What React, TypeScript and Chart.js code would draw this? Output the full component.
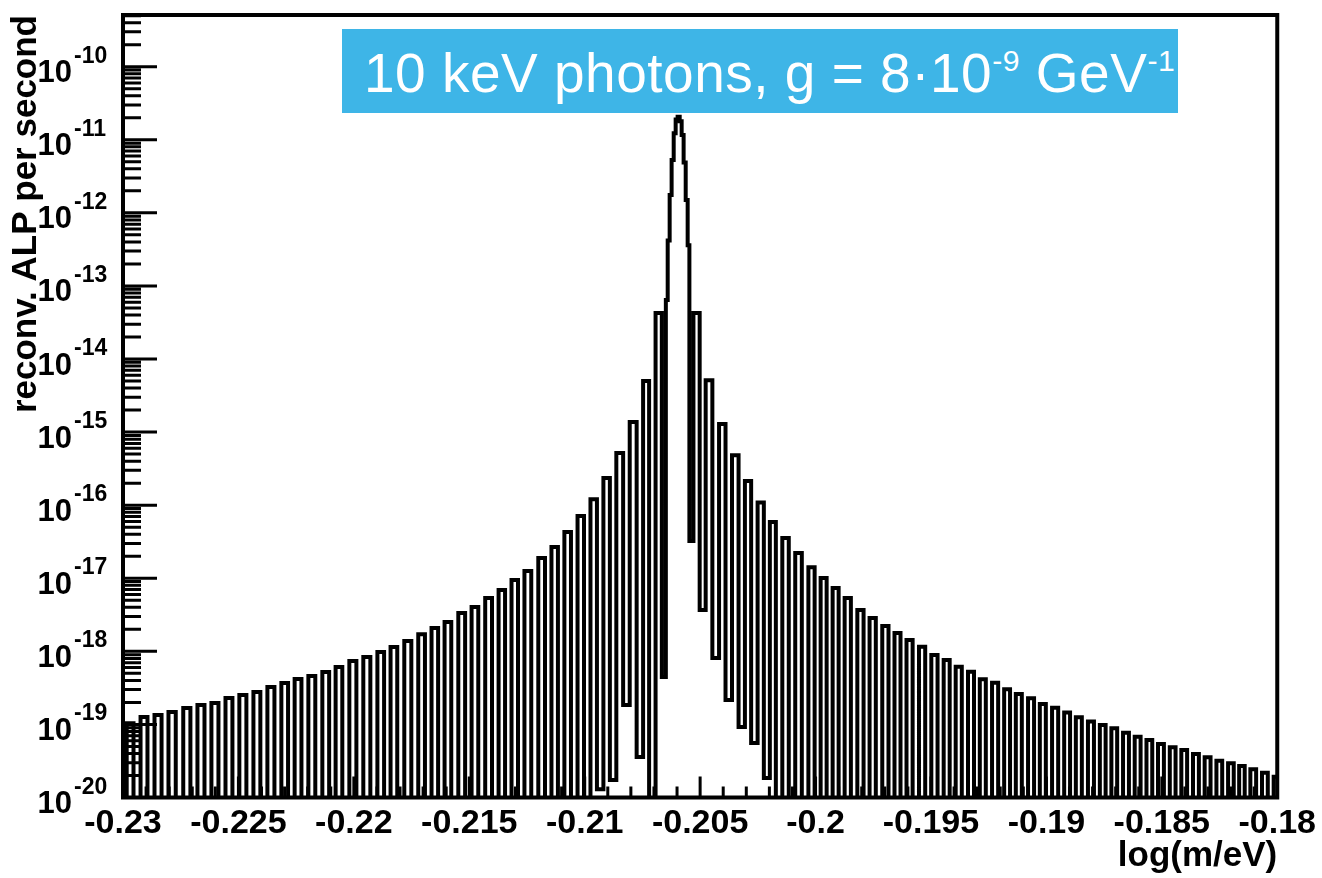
import React, { useEffect, useRef } from 'react';
import { Chart, registerables } from 'chart.js';

Chart.register(...registerables);

const FONT = "'Liberation Sans', Arial, Helvetica, sans-serif";
const FLOOR = 1e-21; // curve dips below the 1e-20 axis floor

// ---- data (x = log(m/eV), y = reconv. ALP per second) ----
const leftPeakX = [
  -0.2297, -0.22909, -0.22848, -0.22788, -0.22723, -0.22662, -0.22602, -0.22541, -0.22481, -0.2242,
  -0.22359, -0.22299, -0.22242, -0.22182, -0.22121, -0.22065, -0.22004, -0.21944, -0.21883, -0.21827,
  -0.21766, -0.21706, -0.21649, -0.21593, -0.21532, -0.21476, -0.21416, -0.21359, -0.21303, -0.21247,
  -0.21186, -0.2113, -0.21074, -0.21017, -0.20961, -0.20905, -0.20849, -0.20792, -0.20736, -0.2068,
];
const leftPeakY = [
  1.04e-19, 1.26e-19, 1.35e-19, 1.48e-19, 1.68e-19, 1.84e-19, 1.96e-19, 2.3e-19, 2.52e-19, 2.77e-19,
  3.25e-19, 3.69e-19, 4.18e-19, 4.59e-19, 5.21e-19, 6.1e-19, 7.36e-19, 8.35e-19, 9.78e-19, 1.15e-18,
  1.38e-18, 1.72e-18, 2.08e-18, 2.52e-18, 3.34e-18, 4.04e-18, 5.36e-18, 6.9e-18, 9.45e-18, 1.26e-17,
  1.89e-17, 2.67e-17, 4.29e-17, 7.1e-17, 1.21e-16, 2.35e-16, 5.16e-16, 1.37e-15, 4.99e-15, 4.25e-14,
];
const leftTroughX = [
  -0.22998, -0.22939, -0.22879, -0.22818, -0.22755, -0.22693, -0.22632, -0.22571, -0.22511, -0.2245,
  -0.2239, -0.22329, -0.22271, -0.22212, -0.22152, -0.22093, -0.22035, -0.21974, -0.21913, -0.21855,
  -0.21797, -0.21736, -0.21678, -0.21621, -0.21563, -0.21504, -0.21446, -0.21387, -0.21331, -0.21275,
  -0.21216, -0.21158, -0.21102, -0.21045, -0.20989, -0.20933, -0.20877, -0.20818, -0.20758, -0.20706,
  -0.20652,
];
const leftTroughY = [
  FLOOR, FLOOR, FLOOR, FLOOR, FLOOR, FLOOR, FLOOR, FLOOR, FLOOR, FLOOR,
  FLOOR, FLOOR, FLOOR, FLOOR, FLOOR, FLOOR, FLOOR, FLOOR, FLOOR, FLOOR,
  FLOOR, FLOOR, FLOOR, FLOOR, FLOOR, FLOOR, FLOOR, FLOOR, FLOOR, FLOOR,
  FLOOR, FLOOR, FLOOR, FLOOR, FLOOR, 1.3e-20, 1.73e-20, 1.84e-19, 3.58e-20, FLOOR,
  4.45e-19,
];
// bins of the main resonance
const coreX = [
  -0.20645, -0.20636, -0.20628, -0.20619, -0.2061, -0.20602,
  -0.20593, -0.20584, -0.20576, -0.20567, -0.20558, -0.2055,
];
const coreY = [
  6.4e-14, 4.2e-13, 1.75e-12, 5.3e-12, 1.23e-11, 1.9e-11,
  2.06e-11, 1.8e-11, 1.16e-11, 4.9e-12, 1.5e-12, 3.6e-13,
];
const rightTroughX = [
  -0.20543, -0.20489, -0.20431, -0.20375, -0.20318, -0.20264, -0.2021, -0.20158, -0.20102, -0.20045,
  -0.19991, -0.19939, -0.19887, -0.19833, -0.19779, -0.19725, -0.19671, -0.19619, -0.19566, -0.19512,
  -0.19458, -0.19406, -0.19353, -0.19301, -0.19249, -0.19196, -0.19145, -0.19093, -0.19041, -0.18989,
  -0.18936, -0.18885, -0.18833, -0.18781, -0.18731, -0.18681, -0.1863, -0.18579, -0.18529, -0.18478,
  -0.18428, -0.18378, -0.18327, -0.18276, -0.18226, -0.18177, -0.18129, -0.18079, -0.18029,
];
const rightTroughY = [
  3.23e-17, 3.67e-18, 8.09e-19, 2.16e-19, 9.2e-20, 5.57e-20, 1.85e-20, FLOOR, FLOOR, FLOOR,
  FLOOR, FLOOR, FLOOR, FLOOR, FLOOR, FLOOR, FLOOR, FLOOR, FLOOR, FLOOR,
  FLOOR, FLOOR, FLOOR, FLOOR, FLOOR, FLOOR, FLOOR, FLOOR, FLOOR, FLOOR,
  FLOOR, FLOOR, FLOOR, FLOOR, FLOOR, FLOOR, FLOOR, FLOOR, FLOOR, FLOOR,
  FLOOR, FLOOR, FLOOR, FLOOR, FLOOR, FLOOR, FLOOR, FLOOR, FLOOR,
];
const rightPeakX = [
  -0.20515, -0.20463, -0.20405, -0.20349, -0.20294, -0.20238, -0.20186, -0.2013, -0.20074, -0.20017,
  -0.19965, -0.19913, -0.19861, -0.19805, -0.19753, -0.19697, -0.19645, -0.19593, -0.19538, -0.19485,
  -0.19432, -0.1938, -0.19326, -0.19276, -0.19222, -0.1917, -0.1912, -0.19066, -0.19016, -0.18962,
  -0.1891, -0.1886, -0.18807, -0.18756, -0.18706, -0.18655, -0.18605, -0.18554, -0.18504, -0.18453,
  -0.18403, -0.18352, -0.18302, -0.18251, -0.182, -0.18153, -0.18104, -0.18053, -0.18002,
];
const rightPeakY = [
  4.25e-14, 5.14e-15, 1.29e-15, 4.84e-16, 2.14e-16, 1.09e-16, 5.88e-17, 3.55e-17, 2.21e-17, 1.42e-17,
  1.01e-17, 7.35e-18, 5.36e-18, 3.67e-18, 2.86e-18, 2.22e-18, 1.78e-18, 1.43e-18, 1.16e-18, 8.9e-19,
  7.6e-19, 6.15e-19, 5.26e-19, 4.14e-19, 3.72e-19, 3.02e-19, 2.61e-19, 2.28e-19, 1.9e-19, 1.69e-19,
  1.46e-19, 1.25e-19, 1.1e-19, 9.8e-20, 8.84e-20, 7.7e-20, 6.79e-20, 6.12e-20, 5.4e-20, 4.86e-20,
  4.47e-20, 3.94e-20, 3.55e-20, 3.19e-20, 2.94e-20, 2.7e-20, 2.43e-20, 2.18e-20, 1.93e-20,
];

// axis settings
const X_MIN = -0.23;
const X_MAX = -0.18;
const X_LABEL_STEP = 0.005;
const X_MINOR_STEP = 0.001;
const Y_MIN = 1e-20;
const Y_MAX = 5.1e-10;
const Y_DECADES = [-20, -19, -18, -17, -16, -15, -14, -13, -12, -11, -10];
const X_TITLE = 'log(m/eV)';
const Y_TITLE = 'reconv. ALP per second';

function zip(xs: number[], ys: number[]) {
  return xs.map((x, i) => ({ x, y: ys[i] }));
}

const frameAndTicks = {
  id: 'frameAndTicks',
  afterDatasetsDraw(chart: any) {
    const { ctx, chartArea: a, scales } = chart;
    const xs = scales.x;
    const ys = scales.y;
    ctx.save();
    ctx.strokeStyle = '#000';
    ctx.lineWidth = 3;
    ctx.lineCap = 'butt';
    ctx.beginPath();
    // x ticks (pointing up, inside)
    const nMinor = Math.round((X_MAX - X_MIN) / X_MINOR_STEP);
    const every = Math.round(X_LABEL_STEP / X_MINOR_STEP);
    for (let i = 0; i <= nMinor; i++) {
      const v = X_MIN + i * X_MINOR_STEP;
      const px = xs.getPixelForValue(v);
      const len = i % every === 0 ? 21 : 11;
      ctx.moveTo(px, a.bottom);
      ctx.lineTo(px, a.bottom - len);
    }
    // y ticks (pointing right, inside)
    for (let e = -20; e <= -10; e++) {
      for (let k = 1; k <= 9; k++) {
        const val = k * Math.pow(10, e);
        if (val > Y_MAX) break;
        const py = ys.getPixelForValue(val);
        const len = k === 1 ? 34 : 18;
        ctx.moveTo(a.left, py);
        ctx.lineTo(a.left + len, py);
      }
    }
    ctx.stroke();
    // frame
    ctx.lineWidth = 4;
    ctx.strokeRect(a.left, a.top, a.right - a.left, a.bottom - a.top);

    // y labels 10^n
    ctx.fillStyle = '#000';
    ctx.textBaseline = 'alphabetic';
    for (const e of Y_DECADES) {
      const py = ys.getPixelForValue(Math.pow(10, e));
      ctx.font = `bold 31px ${FONT}`;
      ctx.textAlign = 'right';
      ctx.fillText('10', 72, py + 15.5);
      ctx.font = `bold 23px ${FONT}`;
      ctx.textAlign = 'left';
      ctx.fillText(String(e), 74, py - 4);
    }
    ctx.restore();
  },
};

export default function App() {
  const ref = useRef<HTMLCanvasElement>(null);

  useEffect(() => {
    const points = [
      ...zip(leftTroughX, leftTroughY),
      ...zip(leftPeakX, leftPeakY),
      ...zip(coreX, coreY),
      ...zip(rightTroughX, rightTroughY),
      ...zip(rightPeakX, rightPeakY),
    ].sort((p, q) => p.x - q.x);

    const chart = new Chart(ref.current as HTMLCanvasElement, {
      type: 'line',
      data: {
        datasets: [
          {
            data: points,
            borderColor: '#000',
            borderWidth: 4,
            pointRadius: 0,
            stepped: 'middle',
            fill: false,
          } as any,
        ],
      },
      options: {
        responsive: false,
        animation: false,
        devicePixelRatio: 1,
        layout: { padding: { left: 0, right: 44, top: 15, bottom: 0 } },
        plugins: {
          legend: { display: false },
          tooltip: { enabled: false },
          title: { display: false },
        },
        scales: {
          x: {
            type: 'linear',
            min: X_MIN,
            max: X_MAX,
            grid: { display: false, drawTicks: false },
            border: { display: false },
            ticks: {
              stepSize: X_LABEL_STEP,
              color: '#000',
              font: { family: FONT, size: 34, weight: 'bold' },
              padding: 6,
              maxRotation: 0,
              autoSkip: false,
              callback: (v: any) => String(parseFloat(Number(v).toFixed(3))),
            },
            title: {
              display: true,
              text: X_TITLE,
              align: 'end',
              color: '#000',
              font: { family: FONT, size: 35, weight: 'bold' },
              padding: { top: 0, bottom: 1 },
            },
            afterFit: (s: any) => {
              s.height = 80.5;
            },
          },
          y: {
            type: 'logarithmic',
            min: Y_MIN,
            max: Y_MAX,
            grid: { display: false, drawTicks: false },
            border: { display: false },
            ticks: { display: false },
            title: {
              display: true,
              text: Y_TITLE,
              align: 'end',
              color: '#000',
              font: { family: FONT, size: 35, weight: 'bold' },
              padding: { top: 5, bottom: 0 },
            },
            afterFit: (s: any) => {
              s.width = 123;
            },
          },
        },
      } as any,
      plugins: [frameAndTicks],
    });
    return () => chart.destroy();
  }, []);

  const supStyle: React.CSSProperties = {
    fontSize: '0.55em',
    verticalAlign: 'baseline',
    position: 'relative',
    top: '-0.7em',
  };

  return (
    <div style={{ position: 'absolute', left: 0, top: 0, width: 1322, height: 878, background: '#fff' }}>
      <canvas ref={ref} width={1322} height={878} style={{ display: 'block' }} />
      <div
        style={{
          position: 'absolute',
          left: 342,
          top: 29,
          width: 836,
          height: 84,
          background: '#3eb5e7',
          color: '#fff',
          fontFamily: FONT,
          fontSize: 55,
          letterSpacing: '0.5px',
          lineHeight: '88px',
          paddingLeft: 22,
          boxSizing: 'border-box',
          whiteSpace: 'nowrap',
          overflow: 'hidden',
        }}
      >
        10 keV photons, g = 8·10
        <span style={supStyle}>-9</span>
        {' GeV'}
        <span style={supStyle}>-1</span>
      </div>
    </div>
  );
}
